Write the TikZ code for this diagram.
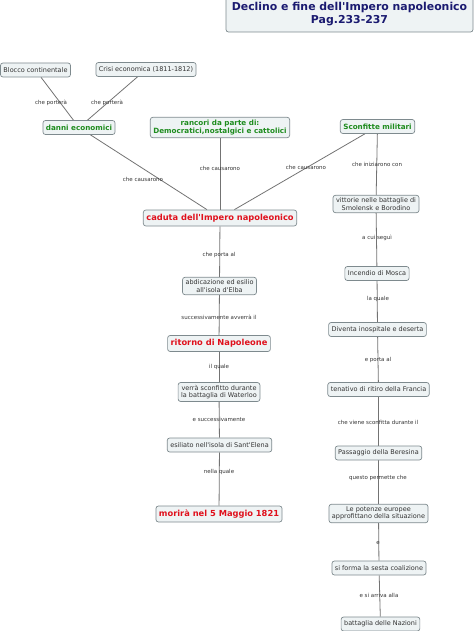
\documentclass[tikz,border=0pt]{standalone}
\usepackage{fontspec}
\setmainfont{DejaVu Sans}
\definecolor{boxfill}{HTML}{EEF3F4}
\definecolor{boxline}{HTML}{7E8A8E}
\definecolor{linec}{HTML}{737373}
\definecolor{txt}{HTML}{333333}
\definecolor{redc}{HTML}{E0101C}
\definecolor{greenc}{HTML}{1E8C1E}
\definecolor{navy}{HTML}{1A1A70}
\newcommand{\ap}{\textquotesingle}
\pgfdeclarelayer{bg}
\pgfsetlayers{bg,main}
\begin{document}
\begin{tikzpicture}[x=1pt,y=-1pt,
  box/.style={draw=boxline, fill=boxfill, rounded corners=2.5pt, line width=0.7pt,
    inner xsep=3pt, inner ysep=2.4pt, minimum height=14pt, text=txt, align=center,
    font=\fontsize{6.5}{7.6}\selectfont},
  redbox/.style={box, text=redc, font=\bfseries\fontsize{8.3}{9.5}\selectfont, minimum height=16pt},
  greenbox/.style={box, text=greenc, font=\bfseries\fontsize{7.2}{8.6}\selectfont},
  titlebox/.style={box, text=navy, font=\bfseries\fontsize{10.9}{13}\selectfont,
    minimum width=247pt, minimum height=35pt},
  lbl/.style={font=\fontsize{5.5}{6.5}\selectfont, text=txt, inner sep=0.5pt},
  conn/.style={draw=linec, line width=0.8pt}]
\useasboundingbox (0,0) rectangle (474,631);

% concepts
\node[titlebox] (title) at (349.5,14.5) {Declino e fine dell\ap Impero napoleonico\\Pag.233-237};
\node[box] (blocco) at (35.5,70) {Blocco continentale};
\node[box] (crisi) at (146,69.5) {Crisi economica (1811-1812)};
\node[greenbox] (danni) at (79,127.5) {danni economici};
\node[greenbox] (rancori) at (220,127.5) {rancori da parte di:\\Democratici,nostalgici e cattolici};
\node[greenbox] (sconfitte) at (377.5,126.5) {Sconfitte militari};
\node[redbox] (caduta) at (220,218) {caduta dell\ap Impero napoleonico};
\node[box] (vittorie) at (376,204) {vittorie nelle battaglie di\\Smolensk e Borodino};
\node[box] (abdic) at (219.5,286) {abdicazione ed esilio\\all\ap isola d\ap Elba};
\node[redbox] (ritorno) at (219,343.5) {ritorno di Napoleone};
\node[box] (verra) at (219,392) {verrà sconfitto durante\\la battaglia di Waterloo};
\node[box] (esiliato) at (219.5,445) {esiliato nell\ap isola di Sant\ap Elena};
\node[redbox] (morira) at (219,514) {morirà nel 5 Maggio 1821};
\node[box] (incendio) at (377,273.5) {Incendio di Mosca};
\node[box] (diventa) at (377.5,329.5) {Diventa inospitale e deserta};
\node[box] (tenativo) at (378.5,389.5) {tenativo di ritiro della Francia};
\node[box] (passaggio) at (378.5,453) {Passaggio della Beresina};
\node[box] (potenze) at (378.5,513.5) {Le potenze europee\\approfittano della situazione};
\node[box] (sesta) at (379,568) {si forma la sesta coalizione};
\node[box] (nazioni) at (380.5,624) {battaglia delle Nazioni};

% linking phrases
\node[lbl] (lp1) at (51,103) {che porterà};
\node[lbl] (lp2) at (107,103) {che porterà};
\node[lbl] (lc1) at (143,179) {che causarono};
\node[lbl] (lc2) at (220,168) {che causarono};
\node[lbl] (lc3) at (306,167) {che causarono};
\node[lbl] (li) at (377,164) {che iniziarono con};
\node[lbl] (la1) at (219,255) {che porta al};
\node[lbl] (la2) at (219,317) {successivamente avverrà il};
\node[lbl] (la3) at (219,367) {il quale};
\node[lbl] (la4) at (219,419) {e successivamente};
\node[lbl] (la5) at (219,472) {nella quale};
\node[lbl] (r1) at (377,238) {a cui seguì};
\node[lbl] (r2) at (378,299) {la quale};
\node[lbl] (r3) at (378,360) {e porta al};
\node[lbl] (r4) at (378,422) {che viene sconfitta durante il};
\node[lbl] (r5) at (378,478) {questo permette che};
\node[lbl] (r6) at (378,543) {e};
\node[lbl] (r7) at (379,595) {e si arriva alla};

% connectors
\begin{pgfonlayer}{bg}
\draw[conn] (blocco) -- (danni);
\draw[conn] (crisi) -- (danni);
\draw[conn] (danni) -- (caduta);
\draw[conn] (rancori) -- (caduta);
\draw[conn] (sconfitte) -- (caduta);
\draw[conn] (sconfitte) -- (vittorie);
\draw[conn] (caduta) -- (abdic);
\draw[conn] (abdic) -- (ritorno);
\draw[conn] (ritorno) -- (verra);
\draw[conn] (verra) -- (esiliato);
\draw[conn] (esiliato) -- (morira);
\draw[conn] (vittorie) -- (incendio);
\draw[conn] (incendio) -- (diventa);
\draw[conn] (diventa) -- (tenativo);
\draw[conn] (tenativo) -- (passaggio);
\draw[conn] (passaggio) -- (potenze);
\draw[conn] (potenze) -- (sesta);
\draw[conn] (sesta) -- (nazioni);
\end{pgfonlayer}
\end{tikzpicture}
\end{document}
